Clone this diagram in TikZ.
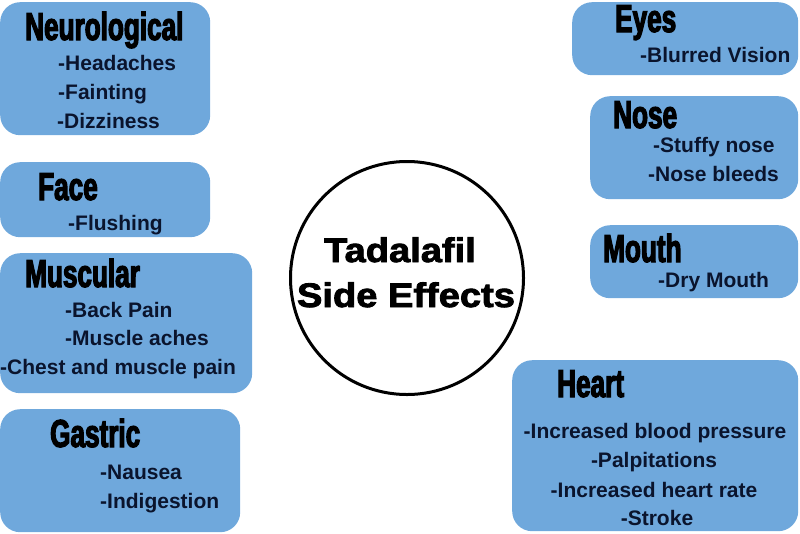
\documentclass[tikz,border=0pt]{standalone}
\usepackage{fontspec}
\setmainfont{Liberation Sans}
\newfontfamily\headfont[FakeStretch=0.67,FakeBold=3]{Liberation Sans}
\newfontfamily\titlefont[FakeStretch=1.12,FakeBold=2.5]{Liberation Sans}
\definecolor{boxblue}{RGB}{111,168,220}
\definecolor{ink}{RGB}{10,20,45}
\tikzset{
  panel/.style={fill=boxblue, draw=none, rounded corners=20pt, anchor=north west, inner sep=0pt},
  head/.style={font=\headfont\bfseries\fontsize{39}{39}\selectfont, text=black, anchor=base west, inner sep=0pt},
  item/.style={font=\bfseries\fontsize{21}{21}\selectfont, text=ink, anchor=base west, inner sep=0pt},
  itemc/.style={item, anchor=base},
  ttl/.style={font=\titlefont\bfseries\fontsize{34}{34}\selectfont, text=black, anchor=base, inner sep=0pt}
}
\begin{document}
\begin{tikzpicture}[x=1pt,y=-1pt]
\useasboundingbox (0,0) rectangle (800,533);
% panels
\node[panel, minimum width=210pt, minimum height=133pt] (neuroBox) at (0,2) {};
\node[panel, minimum width=210pt, minimum height=75pt] (faceBox) at (0,162) {};
\node[panel, minimum width=252pt, minimum height=140pt] (muscBox) at (0,253) {};
\node[panel, minimum width=240pt, minimum height=123pt] (gastBox) at (0,409) {};
\node[panel, minimum width=226pt, minimum height=73pt] (eyesBox) at (572,2) {};
\node[panel, minimum width=208pt, minimum height=103pt] (noseBox) at (590,96) {};
\node[panel, minimum width=208pt, minimum height=73pt] (mouthBox) at (590,225) {};
\node[panel, minimum width=286pt, minimum height=171pt] (heartBox) at (512,360) {};
% centre circle
\node[circle, draw=black, line width=3pt, fill=white, minimum size=233pt, inner sep=0pt] (centre) at (407,278) {};
\node[ttl] (t1) at (400,262) {Tadalafil};
\node[ttl] (t2) at (406,307) {Side Effects};
% Neurological
\node[head] (hNeuro) at (25,40) {Neurological};
\node[item] (n1) at (58,70) {-Headaches};
\node[item] (n2) at (58,99) {-Fainting};
\node[item] (n3) at (57,128) {-Dizziness};
% Face
\node[head] (hFace) at (38,200) {Face};
\node[item] (f1) at (68,230) {-Flushing};
% Muscular
\node[head] (hMusc) at (25,287) {Muscular};
\node[item] (m1) at (65,317) {-Back Pain};
\node[item] (m2) at (65,345) {-Muscle aches};
\node[item] (m3) at (0,374) {-Chest and muscle pain};
% Gastric
\node[head] (hGast) at (50,447) {Gastric};
\node[item] (g1) at (100,479) {-Nausea};
\node[item] (g2) at (100,508) {-Indigestion};
% Eyes
\node[head] (hEyes) at (615,32) {Eyes};
\node[item] (e1) at (640,62) {-Blurred Vision};
% Nose
\node[head] (hNose) at (613,128) {Nose};
\node[item] (no1) at (653,152) {-Stuffy nose};
\node[item] (no2) at (648,181) {-Nose bleeds};
% Mouth
\node[head] (hMouth) at (603,262) {Mouth};
\node[item] (mo1) at (658,287) {-Dry Mouth};
% Heart
\node[head] (hHeart) at (557,397) {Heart};
\node[itemc] (h1) at (655,438) {-Increased blood pressure};
\node[itemc] (h2) at (654,467) {-Palpitations};
\node[itemc] (h3) at (654,497) {-Increased heart rate};
\node[itemc] (h4) at (657,525) {-Stroke};
\end{tikzpicture}
\end{document}
